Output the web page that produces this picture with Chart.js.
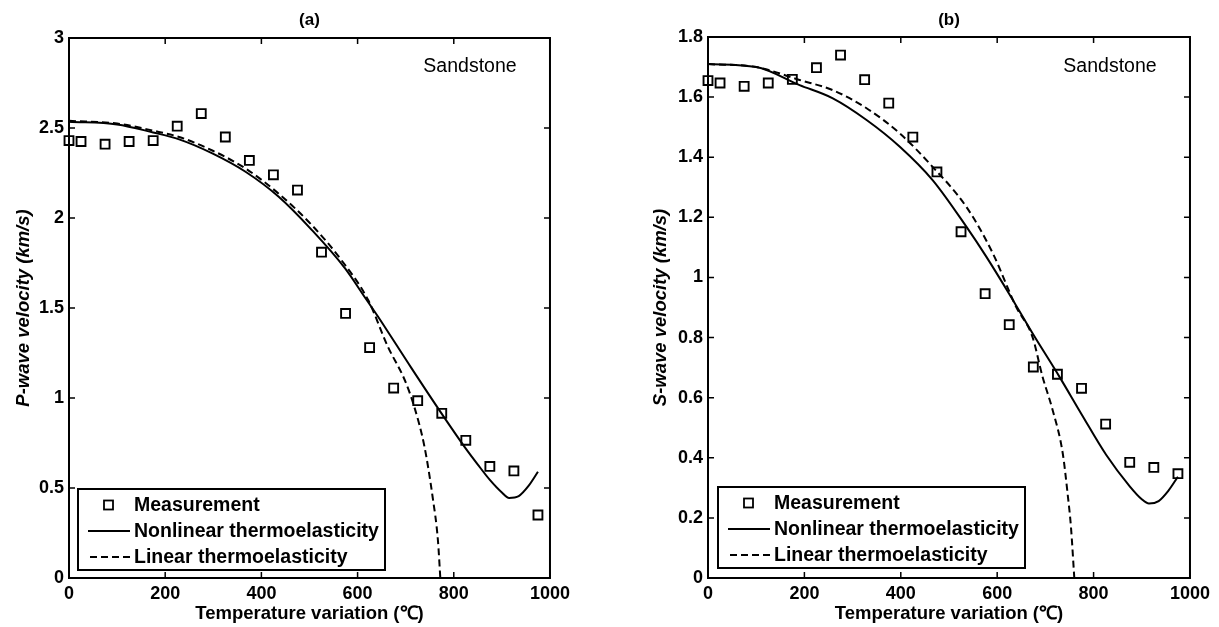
<!DOCTYPE html>
<html>
<head>
<meta charset="utf-8">
<script src="https://cdn.jsdelivr.net/npm/chart.js@4.4.1/dist/chart.umd.min.js"></script>
<style>
  html, body { margin: 0; padding: 0; background: #fff; }
  body { width: 1219px; height: 627px; position: relative; overflow: hidden; }
  canvas { position: absolute; top: 0; }
  #chartA { left: 0; }
  #chartB { left: 640px; }
</style>
</head>
<body>
<canvas id="chartA" width="575" height="627"></canvas>
<canvas id="chartB" width="575" height="627"></canvas>
<script>
/* =======================
   Data
======================= */
const tempTicks = [0, 200, 400, 600, 800, 1000];
const pTicks = [0, 0.5, 1, 1.5, 2, 2.5, 3];
const sTicks = [0, 0.2, 0.4, 0.6, 0.8, 1, 1.2, 1.4, 1.6, 1.8];

// measured points (same temperatures for both panels)
const measTemp = [0, 25, 75, 125, 175, 225, 275, 325, 375, 425, 475, 525, 575, 625, 675, 725, 775, 825, 875, 925, 975];
const pMeas = [2.43, 2.425, 2.41, 2.425, 2.43, 2.51, 2.58, 2.45, 2.32, 2.24, 2.155, 1.81, 1.47, 1.28, 1.055, 0.985, 0.915, 0.765, 0.62, 0.595, 0.35];
const sMeas = [1.655, 1.647, 1.636, 1.647, 1.659, 1.698, 1.74, 1.658, 1.58, 1.467, 1.351, 1.152, 0.946, 0.843, 0.702, 0.678, 0.631, 0.512, 0.385, 0.368, 0.347];

// panel (a) model curves
const pNonlinTemp = [0, 100, 175, 229, 298, 367, 436, 505, 574, 615, 643, 711, 773, 822, 850, 875, 900, 915, 935, 955, 975];
const pNonlin = [2.535, 2.52, 2.475, 2.437, 2.359, 2.257, 2.118, 1.933, 1.72, 1.56, 1.45, 1.17, 0.92, 0.73, 0.63, 0.545, 0.475, 0.445, 0.455, 0.51, 0.59];
const pLinTemp = [0, 100, 175, 229, 298, 367, 436, 505, 566, 622, 663, 698, 718, 739, 756, 767, 772];
const pLin = [2.54, 2.525, 2.485, 2.45, 2.375, 2.275, 2.135, 1.96, 1.767, 1.544, 1.285, 1.1, 0.95, 0.73, 0.45, 0.21, 0];

// panel (b) model curves
const sNonlinTemp = [0, 100, 190, 259, 329, 398, 466, 536, 577, 625, 673, 729, 775, 826, 875, 900, 915, 935, 955, 975];
const sNonlin = [1.71, 1.7, 1.64, 1.596, 1.524, 1.435, 1.324, 1.169, 1.07, 0.945, 0.815, 0.67, 0.545, 0.41, 0.305, 0.262, 0.248, 0.256, 0.29, 0.337];
const sLinTemp = [0, 100, 190, 259, 329, 398, 466, 536, 591, 639, 673, 694, 715, 736, 746, 753, 760];
const sLin = [1.71, 1.7, 1.657, 1.623, 1.563, 1.479, 1.368, 1.235, 1.08, 0.903, 0.803, 0.67, 0.559, 0.415, 0.282, 0.171, 0];

const legendLabels = ["Measurement", "Nonlinear thermoelasticity", "Linear thermoelasticity"];

/* =======================
   Helpers
======================= */
const FONT = "'Liberation Sans', Arial, Helvetica, sans-serif";
const pts = (xs, ys) => xs.map((x, i) => ({ x, y: ys[i] }));

// frame, inward ticks, panel title, label and legend (MATLAB look)
const decoPlugin = {
  id: "deco",
  afterDatasetsDraw(chart, args, o) {
    const { ctx, chartArea: a, scales: { x, y } } = chart;
    ctx.save();
    ctx.strokeStyle = "#000";
    ctx.fillStyle = "#000";

    // inward tick marks on all four sides
    ctx.lineWidth = 1.5;
    ctx.beginPath();
    x.ticks.forEach(t => {
      const px = x.getPixelForValue(t.value);
      ctx.moveTo(px, a.bottom); ctx.lineTo(px, a.bottom - 6);
      ctx.moveTo(px, a.top); ctx.lineTo(px, a.top + 6);
    });
    y.ticks.forEach(t => {
      const py = y.getPixelForValue(t.value);
      ctx.moveTo(a.left, py); ctx.lineTo(a.left + 6, py);
      ctx.moveTo(a.right, py); ctx.lineTo(a.right - 6, py);
    });
    ctx.stroke();

    // box
    ctx.lineWidth = 2;
    ctx.strokeRect(a.left, a.top, a.width, a.height);

    // title "(a)" / "(b)"
    ctx.font = "bold 17px " + FONT;
    ctx.textAlign = "center";
    ctx.textBaseline = "middle";
    ctx.fillText(o.title, (a.left + a.right) / 2, 20);

    // rock type label
    ctx.font = "19.5px " + FONT;
    ctx.fillText("Sandstone", a.right - 80, 67);

    // legend box
    const L = o.legend;
    ctx.fillStyle = "#fff";
    ctx.fillRect(L.left, L.top, L.width, L.height);
    ctx.fillStyle = "#000";
    ctx.lineWidth = 2;
    ctx.strokeRect(L.left, L.top, L.width, L.height);

    const rows = [L.top + 16, L.top + 42, L.top + 68];
    // square marker
    ctx.lineWidth = 1.8;
    ctx.strokeRect(L.left + 26, rows[0] - 4.5, 9, 9);
    // solid line sample
    ctx.beginPath();
    ctx.moveTo(L.left + 10, rows[1]); ctx.lineTo(L.left + 52, rows[1]);
    ctx.lineWidth = 2;
    ctx.stroke();
    // dashed line sample
    ctx.setLineDash([7, 4]);
    ctx.beginPath();
    ctx.moveTo(L.left + 12, rows[2]); ctx.lineTo(L.left + 52, rows[2]);
    ctx.stroke();
    ctx.setLineDash([]);

    ctx.font = "bold 19.5px " + FONT;
    ctx.textAlign = "left";
    legendLabels.forEach((txt, i) => ctx.fillText(txt, L.left + 56, rows[i] + 1));
    ctx.restore();
  }
};

function makePanel(canvasId, cfg) {
  const ctx = document.getElementById(canvasId).getContext("2d");
  return new Chart(ctx, {
    type: "scatter",
    data: {
      datasets: [
        {
          label: legendLabels[0],
          data: pts(measTemp, cfg.meas),
          pointStyle: "rect",
          pointRadius: 6.3,
          pointBorderWidth: 1.9,
          pointBorderColor: "#000",
          pointBackgroundColor: "rgba(0,0,0,0)",
          showLine: false,
          clip: false
        },
        {
          label: legendLabels[1],
          data: pts(cfg.nonlinT, cfg.nonlin),
          showLine: true,
          borderColor: "#000",
          borderWidth: 2,
          pointRadius: 0,
          cubicInterpolationMode: "monotone"
        },
        {
          label: legendLabels[2],
          data: pts(cfg.linT, cfg.lin),
          showLine: true,
          borderColor: "#000",
          borderWidth: 2,
          borderDash: [7, 4],
          pointRadius: 0,
          cubicInterpolationMode: "monotone"
        }
      ]
    },
    options: {
      responsive: false,
      animation: false,
      layout: { padding: { left: cfg.padLeft, right: cfg.padRight, top: cfg.padTop, bottom: 0 } },
      plugins: {
        legend: { display: false },
        tooltip: { enabled: false },
        deco: { title: cfg.title, legend: cfg.legend }
      },
      scales: {
        x: {
          type: "linear",
          min: 0, max: 1000,
          grid: { display: false, drawTicks: false, tickLength: 0 },
          border: { display: false },
          afterBuildTicks: s => { s.ticks = tempTicks.map(v => ({ value: v })); },
          afterFit: s => { s.height = 49; },
          ticks: {
            color: "#000", padding: 5, maxRotation: 0,
            font: { family: FONT, size: 18, weight: "bold" },
            callback: v => String(v)
          },
          title: {
            display: true,
            text: "Temperature variation (\u2103)",
            color: "#000",
            padding: { top: 0, bottom: 2 },
            font: { family: FONT, size: 18.5, weight: "bold" }
          }
        },
        y: {
          type: "linear",
          min: 0, max: cfg.yMax,
          grid: { display: false, drawTicks: false, tickLength: 0 },
          border: { display: false },
          afterBuildTicks: s => { s.ticks = cfg.yTicks.map(v => ({ value: v })); },
          afterFit: s => { s.width = cfg.yWidth; },
          ticks: {
            color: "#000",
            padding: 5,
            font: { family: FONT, size: 18, weight: "bold" },
            callback: v => String(+(+v).toFixed(2))
          },
          title: {
            display: true,
            text: cfg.yTitle,
            color: "#000",
            padding: { top: 4, bottom: 4 },
            font: { family: FONT, size: 18.5, weight: "bold", style: "italic" }
          }
        }
      }
    },
    plugins: [decoPlugin]
  });
}

/* =======================
   Panels
======================= */
makePanel("chartA", {
  title: "(a)",
  meas: pMeas, nonlinT: pNonlinTemp, nonlin: pNonlin, linT: pLinTemp, lin: pLin,
  yMax: 3, yTicks: pTicks, yTitle: "P-wave velocity (km/s)",
  padLeft: 9, yWidth: 60, padRight: 22, padTop: 38,
  legend: { left: 78, top: 489, width: 307, height: 81 }
});

makePanel("chartB", {
  title: "(b)",
  meas: sMeas, nonlinT: sNonlinTemp, nonlin: sNonlin, linT: sLinTemp, lin: sLin,
  yMax: 1.8, yTicks: sTicks, yTitle: "S-wave velocity (km/s)",
  padLeft: 6, yWidth: 62, padRight: 24, padTop: 37,
  legend: { left: 78, top: 487, width: 307, height: 81 }
});
</script>
</body>
</html>
